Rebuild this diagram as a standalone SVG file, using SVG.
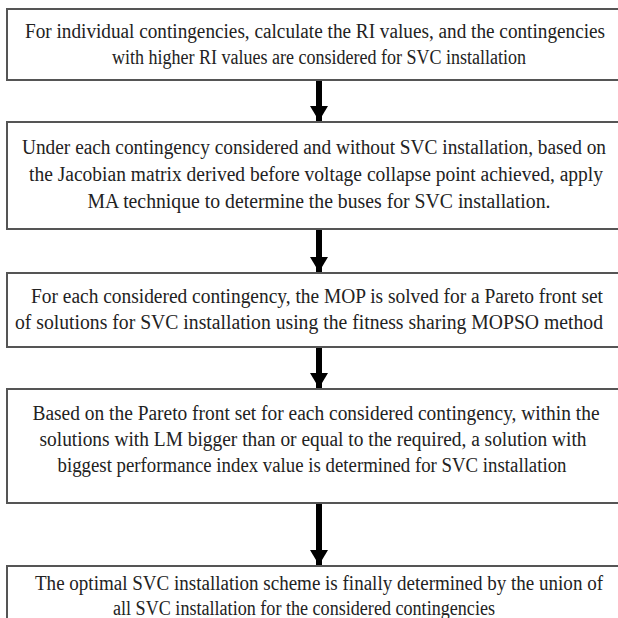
<svg xmlns="http://www.w3.org/2000/svg" width="618" height="618" viewBox="0 0 618 618">
<defs>
<style>
.box{fill:#fff;stroke:#555;stroke-width:2}
.t{font-family:'Liberation Serif','Times New Roman',serif;font-size:20px;fill:#222;text-anchor:middle}
.shaft{stroke:#000;stroke-width:6}
</style>
<marker id="ah" markerUnits="userSpaceOnUse" markerWidth="17" markerHeight="18" refX="15" refY="9" orient="auto">
<path d="M0,0 L15,9 L0,18 Z" fill="#000"/>
</marker>
</defs>
<rect width="618" height="618" fill="#fff"/>
<g id="connectors">
<line class="shaft" x1="319" y1="80" x2="319" y2="121" marker-end="url(#ah)"/>
<line class="shaft" x1="319" y1="229" x2="319" y2="272" marker-end="url(#ah)"/>
<line class="shaft" x1="319" y1="347" x2="319" y2="388" marker-end="url(#ah)"/>
<line class="shaft" x1="319" y1="503" x2="319" y2="565" marker-end="url(#ah)"/>
</g>
<g id="n1">
<rect class="box" x="7" y="9" width="625" height="71"/>
<text class="t" x="315" y="38" textLength="580" lengthAdjust="spacingAndGlyphs">For individual contingencies, calculate the RI values, and the contingencies</text>
<text class="t" x="319" y="64" textLength="414" lengthAdjust="spacingAndGlyphs">with higher RI values are considered for SVC installation</text>
</g>
<g id="n2">
<rect class="box" x="7" y="122" width="625" height="107"/>
<text class="t" x="314" y="154" textLength="584" lengthAdjust="spacingAndGlyphs">Under each contingency considered and without SVC installation, based on</text>
<text class="t" x="316" y="181" textLength="574" lengthAdjust="spacingAndGlyphs">the Jacobian matrix derived before voltage collapse point achieved, apply</text>
<text class="t" x="319" y="208" textLength="463" lengthAdjust="spacingAndGlyphs">MA technique to determine the buses for SVC installation.</text>
</g>
<g id="n3">
<rect class="box" x="7" y="273" width="625" height="74"/>
<text class="t" x="317" y="303" textLength="572" lengthAdjust="spacingAndGlyphs">For each considered contingency, the MOP is solved for a Pareto front set</text>
<text class="t" x="309" y="329" textLength="588" lengthAdjust="spacingAndGlyphs">of solutions for SVC installation using the fitness sharing MOPSO method</text>
</g>
<g id="n4">
<rect class="box" x="7" y="389" width="625" height="114"/>
<text class="t" x="316" y="420" textLength="567" lengthAdjust="spacingAndGlyphs">Based on the Pareto front set for each considered contingency, within the</text>
<text class="t" x="313" y="446" textLength="547" lengthAdjust="spacingAndGlyphs">solutions with LM bigger than or equal to the required, a solution with</text>
<text class="t" x="312" y="472" textLength="509" lengthAdjust="spacingAndGlyphs">biggest performance index value is determined for SVC installation</text>
</g>
<g id="n5">
<rect class="box" x="7" y="566" width="625" height="80"/>
<text class="t" x="319" y="590" textLength="568" lengthAdjust="spacingAndGlyphs">The optimal SVC installation scheme is finally determined by the union of</text>
<text class="t" x="304" y="615" textLength="382" lengthAdjust="spacingAndGlyphs">all SVC installation for the considered contingencies</text>
</g>
</svg>
